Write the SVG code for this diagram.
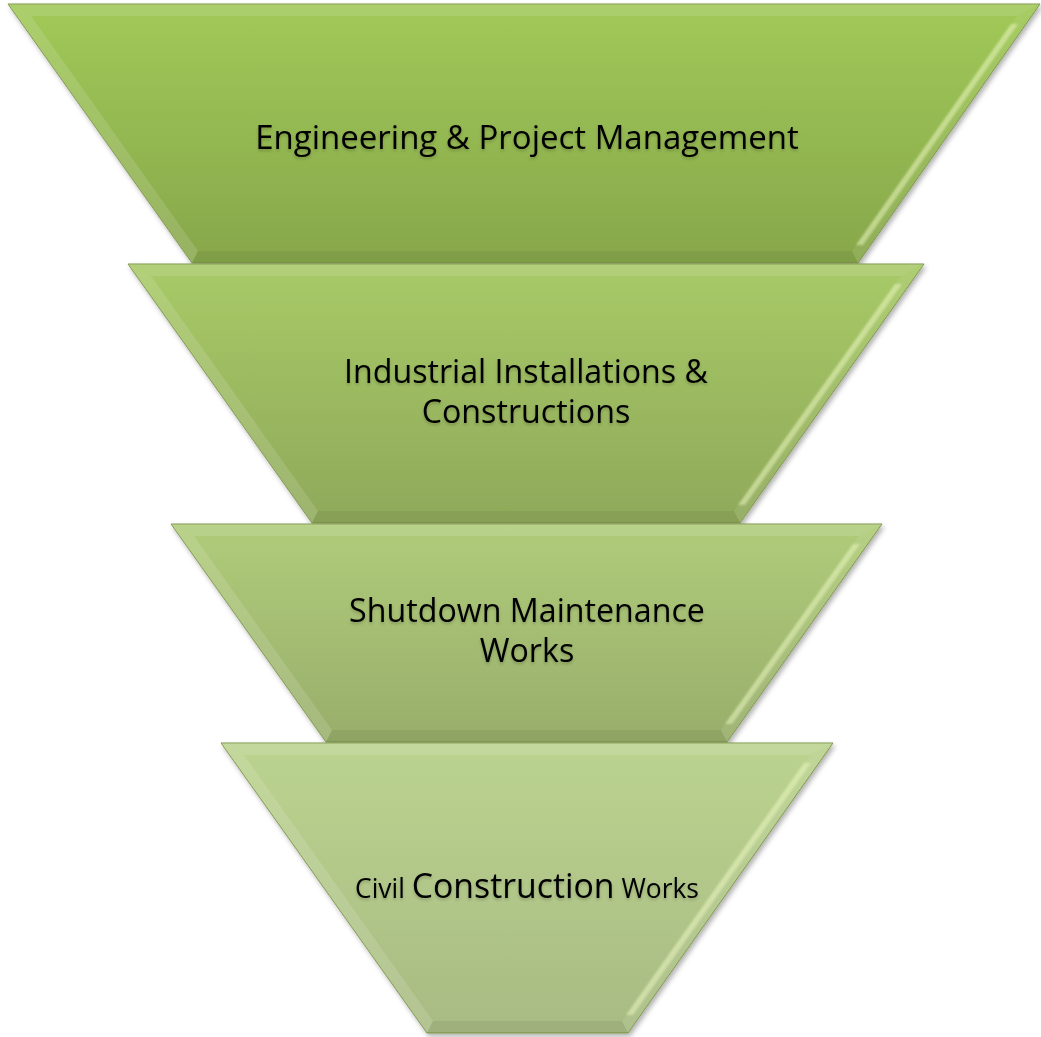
<svg xmlns="http://www.w3.org/2000/svg" width="1041" height="1037" viewBox="0 0 1041 1037">
<defs>
<filter id="sh" x="-5%" y="-5%" width="110%" height="115%">
<feDropShadow dx="2" dy="3" stdDeviation="2.5" flood-color="#000" flood-opacity="0.3"/>
</filter>
<filter id="ts" x="-5%" y="-20%" width="110%" height="150%">
<feDropShadow dx="0" dy="2" stdDeviation="1.5" flood-color="#000" flood-opacity="0.2"/>
</filter>
<filter id="bl" x="-10%" y="-5%" width="120%" height="110%">
<feGaussianBlur stdDeviation="1.2"/>
</filter>
<linearGradient id="g1" x1="0" y1="0" x2="0" y2="1"><stop offset="0" stop-color="#a1c958"/><stop offset="1" stop-color="#87a74b"/></linearGradient>
<linearGradient id="g2" x1="0" y1="0" x2="0" y2="1"><stop offset="0" stop-color="#a8ca67"/><stop offset="1" stop-color="#8fa95a"/></linearGradient>
<linearGradient id="g3" x1="0" y1="0" x2="0" y2="1"><stop offset="0" stop-color="#b0cc7a"/><stop offset="1" stop-color="#98ae6b"/></linearGradient>
<linearGradient id="g4" x1="0" y1="0" x2="0" y2="1"><stop offset="0" stop-color="#bbd38f"/><stop offset="1" stop-color="#a8bb83"/></linearGradient>
</defs>
<style>
.out{stroke:#7c9546;stroke-width:1;}
.top{fill:#ffffff;fill-opacity:0.12;}
.left{fill:#ffffff;fill-opacity:0.13;}
.right{fill:#ffffff;fill-opacity:0.08;}
.hl{fill:#eef9c0;fill-opacity:0.5;}
.bot{fill:#000000;fill-opacity:0.06;}
.t{font-family:"Open Sans",Lato,sans-serif;fill:#000;text-anchor:middle;}
</style>
<g id="layer1" filter="url(#sh)">
<polygon class="out" points="8,4 1040,4 858,263 192,263" fill="url(#g1)"/>
<polygon class="top" points="8,4 1040,4 1017,16 31,16"/>
<polygon class="left" points="8,4 31,16 198,251 192,263"/>
<polygon class="right" points="1040,4 858,263 852,251 1017,16"/>
<polygon class="hl" filter="url(#bl)" points="1011,24 856,245 863,245 1018,24"/>
<polygon class="bot" points="192,263 198,251 852,251 858,263"/>
<text class="t" x="527" y="149" font-size="33" filter="url(#ts)">Engineering &amp; Project Management</text>
</g>
<g id="layer2" filter="url(#sh)">
<polygon class="out" points="128,264 924,264 740,523 312,523" fill="url(#g2)"/>
<polygon class="top" points="128,264 924,264 901,276 151,276"/>
<polygon class="left" points="128,264 151,276 318,511 312,523"/>
<polygon class="right" points="924,264 740,523 734,511 901,276"/>
<polygon class="hl" filter="url(#bl)" points="895,284 738,505 745,505 902,284"/>
<polygon class="bot" points="312,523 318,511 734,511 740,523"/>
<text class="t" font-size="32.2" filter="url(#ts)"><tspan x="526" y="383">Industrial Installations &amp;</tspan><tspan x="526" y="423">Constructions</tspan></text>
</g>
<g id="layer3" filter="url(#sh)">
<polygon class="out" points="171,524 882,524 727,742 326,742" fill="url(#g3)"/>
<polygon class="top" points="171,524 882,524 859,536 194,536"/>
<polygon class="left" points="171,524 194,536 332,730 326,742"/>
<polygon class="right" points="882,524 727,742 721,730 859,536"/>
<polygon class="hl" filter="url(#bl)" points="853,544 725,724 732,724 860,544"/>
<polygon class="bot" points="326,742 332,730 721,730 727,742"/>
<text class="t" font-size="32.2" filter="url(#ts)"><tspan x="527" y="622">Shutdown Maintenance</tspan><tspan x="527" y="662">Works</tspan></text>
</g>
<g id="layer4" filter="url(#sh)">
<polygon class="out" points="221,743 833,743 628,1033 427,1033" fill="url(#g4)"/>
<polygon class="top" points="221,743 833,743 810,755 244,755"/>
<polygon class="left" points="221,743 244,755 433,1021 427,1033"/>
<polygon class="right" points="833,743 628,1033 622,1021 810,755"/>
<polygon class="hl" filter="url(#bl)" points="804,763 626,1015 633,1015 811,763"/>
<polygon class="bot" points="427,1033 433,1021 622,1021 628,1033"/>
<text class="t" x="527" y="898" filter="url(#ts)"><tspan font-size="26.4">Civil </tspan><tspan font-size="33.8">Construction</tspan><tspan font-size="26.4"> Works</tspan></text>
</g>
</svg>
